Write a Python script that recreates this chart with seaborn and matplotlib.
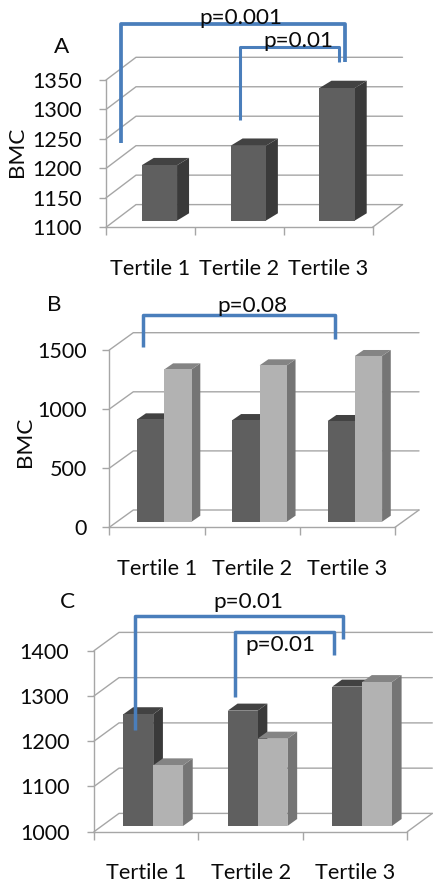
import numpy as np
import pandas as pd
import seaborn as sns
import matplotlib.pyplot as plt
from matplotlib.lines import Line2D
from matplotlib.patches import Polygon
from matplotlib.transforms import Affine2D, IdentityTransform

# data
tertiles = ["Tertile 1", "Tertile 2", "Tertile 3"]
a_values = [1194, 1227, 1325]
b_dark = [866, 860, 852]
b_light = [1289, 1323, 1402]
c_dark = [1247, 1255, 1308]
c_light = [1134, 1193, 1318]
a_ticks = [1100, 1150, 1200, 1250, 1300, 1350]
b_ticks = [0, 500, 1000, 1500]
c_ticks = [1000, 1100, 1200, 1300, 1400]

W, H = 448, 889
GRID = "#a6a6a6"
BLUE = "#4a7ebb"
DARK = ("#5f5f5f", "#424242", "#3a3a3a")   # front, top, side
LIGHT = ("#b2b2b2", "#848484", "#757575")

sns.set_style("white")
plt.rcParams["font.family"] = ["Lato", "DejaVu Sans"]
plt.rcParams["text.color"] = "#0a0a0a"
plt.rcParams["xtick.labelcolor"] = "#0a0a0a"
plt.rcParams["ytick.labelcolor"] = "#0a0a0a"

fig = plt.figure(figsize=(W / 100, H / 100), dpi=100, facecolor="white")


def fig_xy(x, y):
    return x / W, 1 - y / H


def bracket(pts, lw=2.5):
    xs, ys = zip(*[fig_xy(*p) for p in pts])
    fig.add_artist(Line2D(xs, ys, color=BLUE, lw=lw, solid_joinstyle="round",
                          solid_capstyle="butt"))


def label(x, y, s, size=16.2, **kw):
    fx, fy = fig_xy(x, y)
    fig.text(fx, fy, s, fontsize=size, ha="center", va="center", **kw)


def panel(box, df, ticks, width, colors, wall, shift, depth, ypad):
    left, right, top, bottom = box
    ax = fig.add_axes([left / W, 1 - bottom / H, (right - left) / W, (bottom - top) / H])
    ax.patch.set_alpha(0)

    hue = "group" if df["group"].nunique() > 1 else None
    if hue:
        sns.barplot(data=df, x="tertile", y="bmc", hue=hue, width=width, gap=0, ax=ax,
                    palette=[c[0] for c in colors], saturation=1, legend=False)
    else:
        sns.barplot(data=df, x="tertile", y="bmc", width=width, ax=ax,
                    color=colors[0][0], saturation=1)

    ax.set_xlim(-0.5, 2.5)
    ax.set_ylim(ticks[0], ticks[-1])
    ax.set_xlabel("")
    ax.set_ylabel("")

    # walls and floor in pixel space
    wx, wy = wall
    for t in ticks:
        x0, y0 = ax.transData.transform((-0.5, t))
        x1, _ = ax.transData.transform((2.5, t))
        ax.add_line(Line2D([x0, x0 + wx, x1 + wx], [y0, y0 + wy, y0 + wy], color=GRID, lw=1,
                           transform=IdentityTransform(), clip_on=False, zorder=1))
    x0, y0 = ax.transData.transform((2.5, ticks[0]))
    ax.add_line(Line2D([x0, x0 + wx], [y0, y0 + wy], color=GRID, lw=1,
                       transform=IdentityTransform(), clip_on=False, zorder=1))

    # push bars back into the box and give them depth
    sx, sy = shift
    dx, dy = depth
    n = len(tertiles)
    for i, p in enumerate(ax.patches):
        front, top_c, side_c = colors[i // n]
        z = 3 + i // n
        h = p.get_height()
        p.set_y(ticks[0])
        p.set_height(h - ticks[0])
        (xa, ya) = ax.transData.transform((p.get_x(), ticks[0]))
        (xb, yb) = ax.transData.transform((p.get_x() + p.get_width(), h))
        xa, xb, ya, yb = xa + sx, xb + sx, ya + sy, yb + sy
        p.set_transform(ax.transData + Affine2D().translate(sx, sy))
        p.set_clip_on(False)
        p.set_linewidth(0)
        p.set_zorder(z + 0.5)
        side = [(xb, ya), (xb + dx, ya + dy), (xb + dx, yb + dy), (xb, yb)]
        roof = [(xa, yb), (xa + dx, yb + dy), (xb + dx, yb + dy), (xb, yb)]
        ax.add_patch(Polygon(side, fc=side_c, ec="none", transform=IdentityTransform(),
                             clip_on=False, zorder=z))
        ax.add_patch(Polygon(roof, fc=top_c, ec="none", transform=IdentityTransform(),
                             clip_on=False, zorder=z))

    sns.despine(ax=ax)
    for s in ["left", "bottom"]:
        ax.spines[s].set_color(GRID)
        ax.spines[s].set_linewidth(1)
    ax.set_yticks(ticks)
    ax.set_xticks([-0.5, 0.5, 1.5, 2.5], [])
    ax.set_xticks([0, 1, 2], tertiles, minor=True)
    ax.tick_params(axis="y", length=5, width=1, color=GRID, pad=ypad, labelsize=15.5, left=True)
    ax.tick_params(axis="x", which="major", length=5.5, width=1, color=GRID, bottom=True)
    ax.tick_params(axis="x", which="minor", length=0, pad=22.5, labelsize=15.6)
    return ax


def long_table(dark, light=None):
    rows = {"tertile": list(tertiles), "bmc": list(dark), "group": ["dark"] * 3}
    if light is not None:
        rows["tertile"] += tertiles
        rows["bmc"] += list(light)
        rows["group"] += ["light"] * 3
    return pd.DataFrame(rows)


# A
panel((106, 372.5, 80, 227.3), long_table(a_values), a_ticks, 0.397, [DARK],
      (30, 22.7), (9, 6.7), (12, 7.3), 12.2)
label(62, 47, "A")
label(17, 152, "BMC", rotation=90)
bracket([(121, 143), (121, 24), (345, 24), (345, 62)], lw=2.7)
bracket([(240, 120), (240, 47), (339, 47), (339, 62)], lw=2.2)
label(241, 18, "p=0.001")
label(298, 41, "p=0.01")

# B
panel((109.3, 395, 350, 527.3), long_table(b_dark, b_light), b_ticks, 0.571, [DARK, LIGHT],
      (24, 17.3), (7.5, 5.6), (8.7, 6), 11.3)
label(54, 305, "B")
label(25, 442, "BMC", rotation=90)
bracket([(143, 347), (143, 315), (335, 315), (335, 339)])
label(252, 306, "p=0.08")

# C
panel((94, 407.3, 650.7, 831.7), long_table(c_dark, c_light), c_ticks, 0.571, [DARK, LIGHT],
      (25, 18.3), (7, 5.7), (9.7, 7), 12.7)
label(67, 602, "C")
bracket([(135, 730), (135, 616), (343, 616), (343, 639)])
bracket([(235, 697), (235, 632), (334, 632), (334, 655)])
label(248, 602, "p=0.01")
label(280, 645, "p=0.01")

fig.savefig("out.png", dpi=100)
